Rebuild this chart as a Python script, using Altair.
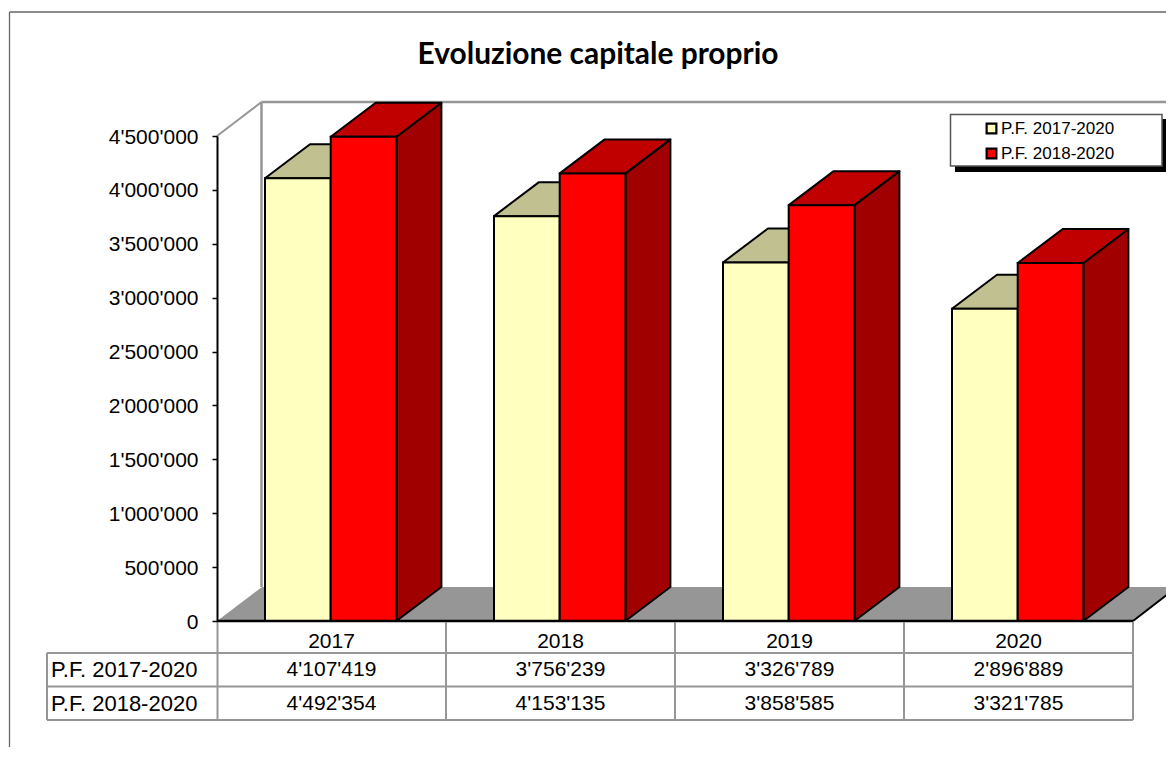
import altair as alt
import pandas as pd

CATS = ["2017", "2018", "2019", "2020"]
SERIES = ["P.F. 2017-2020", "P.F. 2018-2020"]
S1 = [4107419, 3756239, 3326789, 2896889]
S2 = [4492354, 4153135, 3858585, 3321785]
S1_TXT = ["4'107'419", "3'756'239", "3'326'789", "2'896'889"]
S2_TXT = ["4'492'354", "4'153'135", "3'858'585", "3'321'785"]
TICKS = [0, 500000, 1000000, 1500000, 2000000, 2500000, 3000000, 3500000, 4000000, 4500000]
FRONT = ["#FFFFC0", "#FF0000"]
TOP = ["#C0C090", "#C00000"]
SIDE = ["#A0A070", "#A00000"]
GRAY = "#969696"
FONT = "Liberation Sans"

# geometry: plot origin at page (217,136)
OX, OY = 217, 136
PW, PH = 949, 485
UNIT = 229.0                # px per category slot
BAR_OFF = 48 / UNIT
BAR_W = 65.7 / UNIT
DX = 45 / UNIT
DY = 34 / PH * 4500000

AXIS = alt.Axis(
    values=TICKS, title=None, grid=False, domainColor="#000000", domainWidth=2,
    tickColor="#000000", tickWidth=1.5, tickSize=5, labelPadding=14, zindex=1,
    labelFont=FONT, labelFontSize=21, labelColor="#000000", labelBaseline="middle", labelOffset=1,
    labelExpr="replace(format(datum.value, ','), /,/g, \"'\")")
xs = alt.Scale(domain=[0, PW / UNIT], range=[0, PW], nice=False, zero=False)
ys = alt.Scale(domain=[0, 4500000], nice=False)
X = lambda f="x": alt.X(f"{f}:Q", scale=xs, axis=None)
Y = lambda f="y": alt.Y(f"{f}:Q", scale=ys, axis=AXIS)


def rule(x0, x1, y0, y1, color=GRAY, w=2.0):
    enc = dict(x=alt.value(x0 - OX), x2=alt.value(x1 - OX), y=alt.value(y0 - OY), y2=alt.value(y1 - OY))
    return alt.Chart(pd.DataFrame({"a": [0]})).mark_rule(color=color, strokeWidth=w).encode(**enc)


fronts, tops, sides = [], [], []
for s, vals in enumerate([S1, S2]):
    for i, v in enumerate(vals):
        x0 = i + BAR_OFF + s * BAR_W
        x1 = x0 + BAR_W
        fronts.append(dict(series=SERIES[s], s=s, x=x0, x2=x1, y=0, y2=v))
        k = f"{s}-{i}"
        tops += [dict(k=k, s=s, y=v, x=x0, x2=x1), dict(k=k, s=s, y=v + DY, x=x0 + DX, x2=x1 + DX)]
        sides += [dict(k=k, s=s, x=x1, y=0, y2=v), dict(k=k, s=s, x=x1 + DX, y=DY, y2=v + DY)]
fronts, tops, sides = pd.DataFrame(fronts), pd.DataFrame(tops), pd.DataFrame(sides)

layers = []
# outer frame
layers += [rule(9.5, 1166, 12, 12, "#666666", 1.3), rule(9.5, 9.5, 12, 760, "#666666", 1.3)]
# floor
floor = pd.DataFrame({"y": [0, DY], "x": [0, DX], "x2": [4, 4 + DX]})
layers.append(alt.Chart(floor).mark_area(orient="horizontal", color=GRAY).encode(
    y=Y(), x=X(), x2="x2:Q"))
# walls
layers += [
    rule(261.5, 261.5, 102, 587, GRAY, 2.5),
    rule(261.5, 1166, 102, 102, GRAY, 2.5),
    rule(217, 261.5, 136, 102, GRAY, 2),
    rule(1133, 1177, 621, 587, "#000000", 2),
]
# bars
for s in range(2):
    layers.append(alt.Chart(sides[sides.s == s]).mark_area(
        color=SIDE[s], stroke="#000000", strokeWidth=2, strokeJoin="round"
    ).encode(x=X(), y=Y(), y2="y2:Q", detail="k:N"))
    layers.append(alt.Chart(tops[tops.s == s]).mark_area(
        orient="horizontal", color=TOP[s], stroke="#000000", strokeWidth=2, strokeJoin="round"
    ).encode(y=Y(), x=X(), x2="x2:Q", detail="k:N"))
    layers.append(alt.Chart(fronts[fronts.s == s]).mark_rect(stroke="#000000", strokeWidth=2).encode(
        x=X(), x2="x2:Q", y=Y(), y2="y2:Q",
        fill=alt.Fill("series:N", scale=alt.Scale(domain=SERIES, range=FRONT), legend=alt.Legend(
            title=None, orient="none", legendX=987 - OX - 8, legendY=114 - OY + 2,
            symbolType="square", symbolSize=95, symbolStrokeColor="#000000", symbolStrokeWidth=2.2,
            labelFont=FONT, labelFontSize=17, labelColor="#000000", labelOffset=1,
            rowPadding=6, padding=4))))

# x baseline
layers.append(rule(217, 1133, 621, 621, "#000000", 2.5))

# data table grid
for xb in [217.5, 446, 675, 904, 1133]:
    layers.append(rule(xb, xb, 622, 720, GRAY, 2))
layers.append(rule(47, 47, 653, 720, GRAY, 2))
for yb in [653, 686.5, 720]:
    layers.append(rule(47, 1133, yb, yb, GRAY, 2))

# data table text (rows sit below the zero line, so their y is negative on the value scale)
PX = 4500000 / PH
tbl = []
for i, c in enumerate(CATS):
    tbl.append(dict(x=i + 0.5, t=c, row=642))
    tbl.append(dict(x=i + 0.5, t=S1_TXT[i], row=670))
    tbl.append(dict(x=i + 0.5, t=S2_TXT[i], row=704))
tbl = pd.DataFrame(tbl)
tbl["y"] = (OY + PH - tbl.row) * PX
layers.append(alt.Chart(tbl).mark_text(font=FONT, fontSize=21, color="#000000", baseline="middle").encode(
    x=X(), y=Y(), text="t:N"))
lab = pd.DataFrame({"t": SERIES, "y": [(OY + PH - 670) * PX, (OY + PH - 703.5) * PX]})
layers.append(alt.Chart(lab).mark_text(font=FONT, fontSize=22, color="#000000", baseline="middle", align="left").encode(
    x=alt.value(51 - OX), y=Y(), text="t:N"))


# legend box with shadow
def box(x0, x1, y0, y1, **kw):
    return alt.Chart(pd.DataFrame({"a": [0]})).mark_rect(**kw).encode(
        x=alt.value(x0 - OX), x2=alt.value(x1 - OX), y=alt.value(y0 - OY), y2=alt.value(y1 - OY))


layers.append(box(955, 1169, 119, 172, color="#000000"))
layers.append(box(950.5, 1162, 114.5, 166, fill="#FFFFFF", stroke="#555555", strokeWidth=1.5))

# title
title = alt.Chart(pd.DataFrame({"t": ["Evoluzione capitale proprio"]})).mark_text(
    font="Lato", fontSize=29.9, fontWeight="bold", color="#000000", baseline="middle"
).encode(x=alt.value(598 - OX), y=alt.value(55 - OY), text="t:N")
layers.append(title)

chart = alt.layer(*layers).properties(
    width=PW, height=PH,
    padding={"left": OX - 8, "top": OY - 8, "right": 0, "bottom": 126},
    autosize=alt.AutoSizeParams(type="none"),
    background="#FFFFFF",
).configure_view(stroke=None)
chart.save("out.html", embed_options={"renderer": "svg", "actions": False})
